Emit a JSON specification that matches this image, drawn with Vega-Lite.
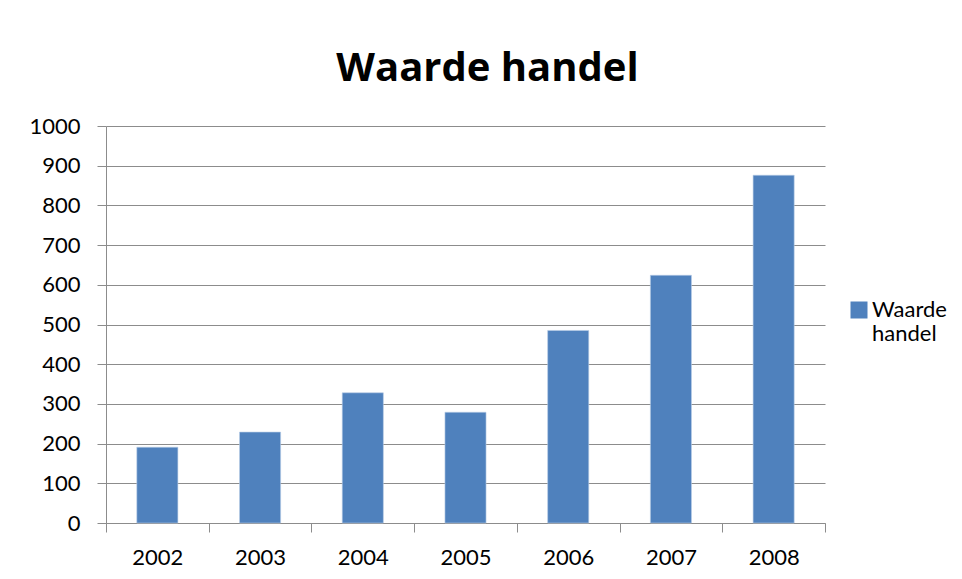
{
  "$schema": "https://vega.github.io/schema/vega-lite/v6.json",
  "autosize": {"type": "none"},
  "width": 719,
  "height": 397,
  "padding": {"left": 106, "top": 126, "right": 137, "bottom": 56},
  "background": "white",
  "title": {
    "text": "Waarde handel",
    "font": "Open Sans",
    "fontSize": 40,
    "fontWeight": "bold",
    "color": "black",
    "anchor": "middle",
    "baseline": "alphabetic",
    "dx": 22,
    "offset": -6
  },
  "data": {
    "values": [
      {"jaar": "2002", "waarde": 191, "reeks": "Waarde handel"},
      {"jaar": "2003", "waarde": 229, "reeks": "Waarde handel"},
      {"jaar": "2004", "waarde": 328, "reeks": "Waarde handel"},
      {"jaar": "2005", "waarde": 279, "reeks": "Waarde handel"},
      {"jaar": "2006", "waarde": 485, "reeks": "Waarde handel"},
      {"jaar": "2007", "waarde": 624, "reeks": "Waarde handel"},
      {"jaar": "2008", "waarde": 876, "reeks": "Waarde handel"}
    ]
  },
  "mark": {"type": "bar", "width": {"band": 0.4}, "stroke": "#b9cde5", "strokeWidth": 0.6},
  "encoding": {
    "x": {
      "field": "jaar",
      "type": "nominal",
      "scale": {"paddingInner": 0, "paddingOuter": 0},
      "axis": {
        "title": null,
        "labelAngle": 0,
        "labelFont": "Lato",
        "labelFontSize": 22,
        "labelColor": "#000000",
        "labelPadding": 15,
        "tickBand": "extent",
        "tickSize": 9,
        "tickColor": "#8c8c8c",
        "domainColor": "#8c8c8c",
        "tickWidth": 1,
        "domainWidth": 1
      }
    },
    "y": {
      "field": "waarde",
      "type": "quantitative",
      "scale": {"domain": [0, 1000]},
      "axis": {
        "title": null,
        "format": "d",
        "values": [0, 100, 200, 300, 400, 500, 600, 700, 800, 900, 1000],
        "labelFont": "Lato",
        "labelFontSize": 22,
        "labelColor": "#000000",
        "labelPadding": 17,
        "tickSize": 9,
        "tickColor": "#8c8c8c",
        "domain": true,
        "domainColor": "#8c8c8c",
        "gridColor": "#8c8c8c",
        "gridWidth": 1,
        "grid": true
      }
    },
    "color": {
      "field": "reeks",
      "type": "nominal",
      "scale": {"range": ["#4f81bd"]},
      "legend": {
        "title": null,
        "orient": "none",
        "legendX": 742,
        "legendY": 173,
        "symbolType": "square",
        "symbolSize": 289,
        "symbolStrokeWidth": 0,
        "labelFont": "Lato",
        "labelFontSize": 22,
        "labelColor": "#000000",
        "labelBaseline": "middle",
        "labelLineHeight": 26,
        "labelOffset": 2,
        "labelExpr": "split(datum.label, ' ')"
      }
    }
  },
  "config": {
    "view": {"stroke": null}
  }
}
